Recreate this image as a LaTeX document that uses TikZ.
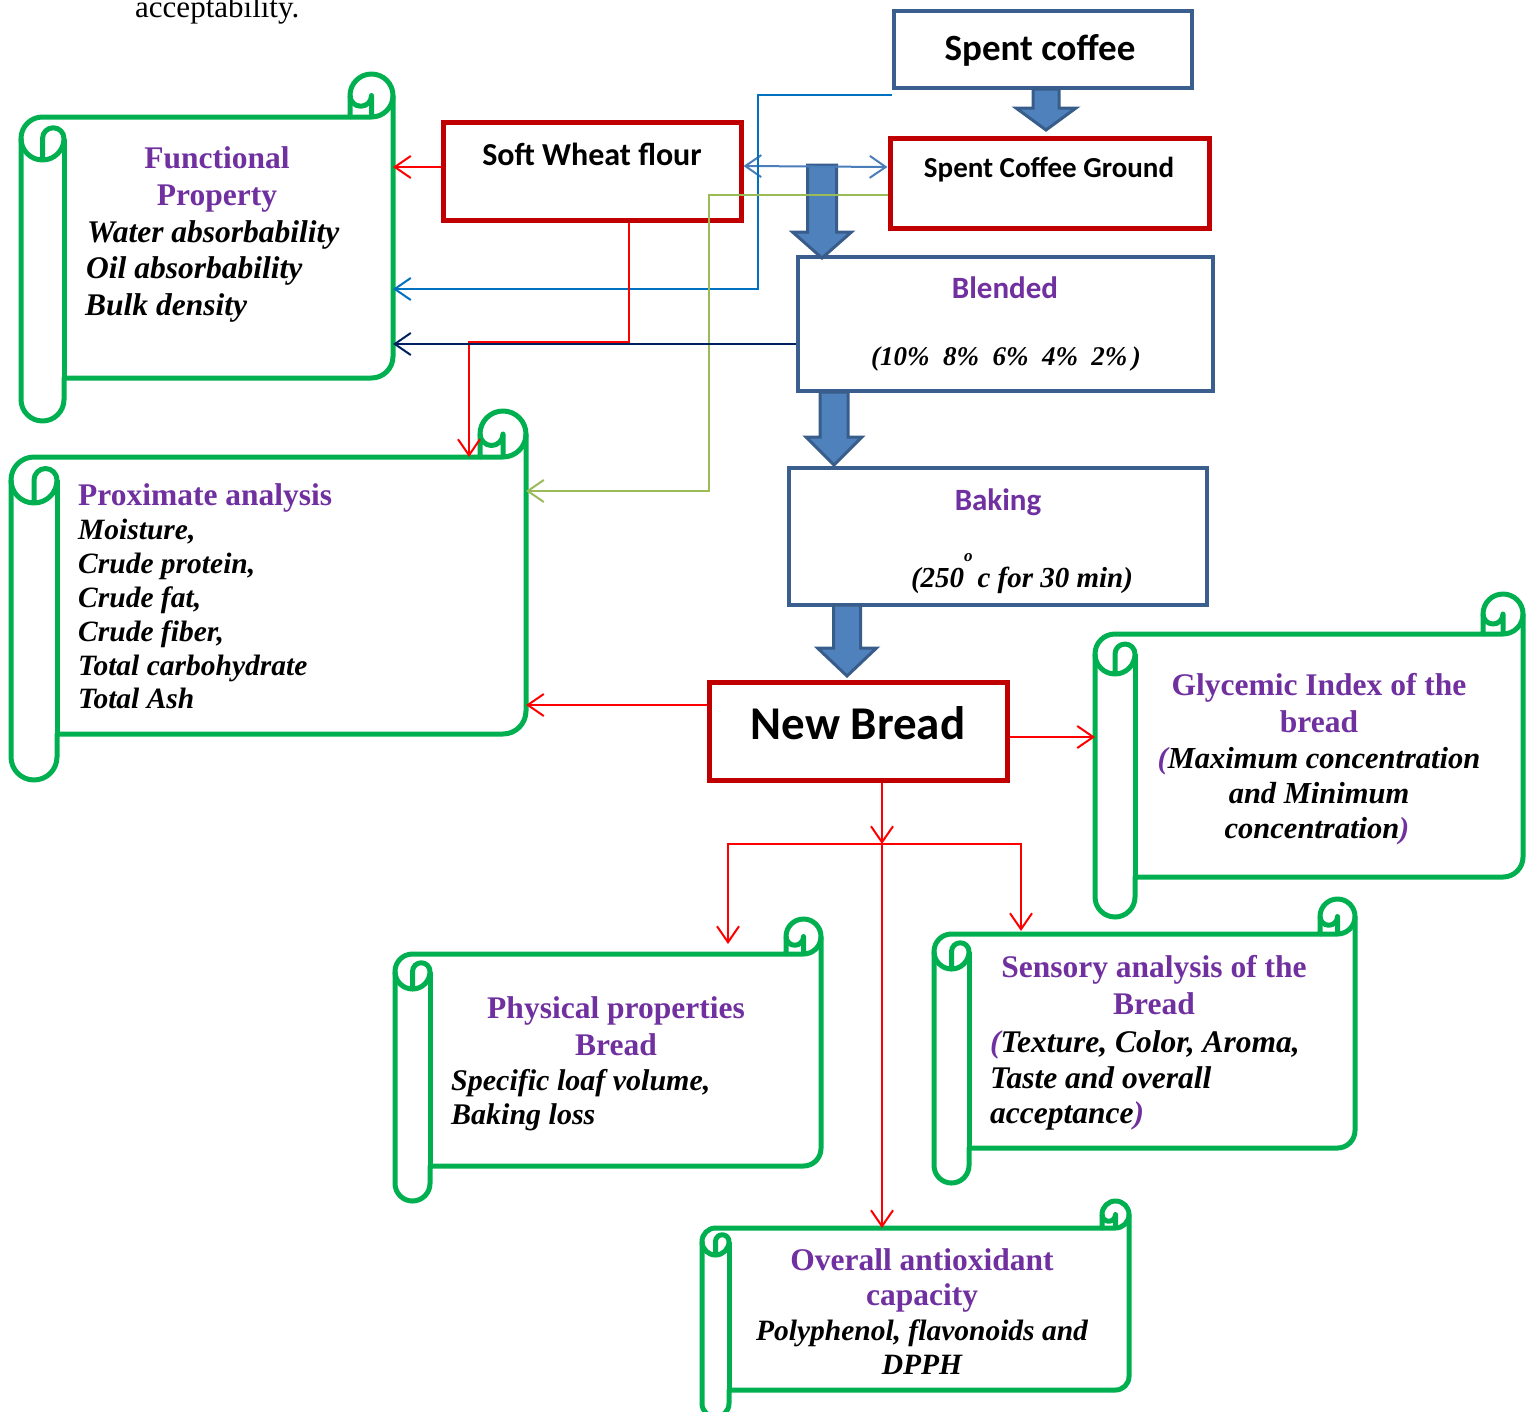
\documentclass[tikz,border=0pt]{standalone}
\usepackage{fontspec}
\setmainfont{Liberation Serif}
\newfontfamily\calfont{Carlito}
\usetikzlibrary{arrows.meta}
\definecolor{scrollgreen}{HTML}{00B050}
\definecolor{boxred}{HTML}{C00000}
\definecolor{boxblue}{HTML}{3A5F8F}
\definecolor{arrowfill}{HTML}{4F81BD}
\definecolor{arrowedge}{HTML}{385D8A}
\definecolor{linered}{HTML}{FF0000}
\definecolor{lineblue}{HTML}{0070C0}
\definecolor{linesteel}{HTML}{4A7EBB}
\definecolor{lineolive}{HTML}{9BBB59}
\definecolor{linenavy}{HTML}{002060}
\definecolor{ppurple}{HTML}{7030A0}

\newcommand\drawscroll[6]{%
  \pgfmathsetmacro\ScL{#2}\pgfmathsetmacro\ScT{#3}\pgfmathsetmacro\ScR{#4}\pgfmathsetmacro\ScB{#5}%
  \pgfmathsetmacro\ScC{#6}\pgfmathsetmacro\ScH{#6/2}\pgfmathsetmacro\ScQ{#6/4}%
  \pgfmathsetmacro\ScW{#4-#2}\pgfmathsetmacro\ScHt{#5-#3-2*#6}%
  \pgfmathsetmacro\ScX{(#2+#4)/2}\pgfmathsetmacro\ScY{(#3+#5)/2}%
  \path[scrollline,fill=white] (\ScL,\ScT+1.5*\ScC) arc[start angle=180,end angle=90,radius=\ScH pt]
     -- (\ScR-\ScC,\ScT+\ScC) -- (\ScR-\ScC,\ScT+\ScH) arc[start angle=180,end angle=0,radius=\ScH pt]
     -- (\ScR,\ScB-\ScC-\ScH) arc[start angle=0,end angle=-90,radius=\ScH pt]
     -- (\ScL+\ScC,\ScB-\ScC) -- (\ScL+\ScC,\ScB-\ScH) arc[start angle=0,end angle=-180,radius=\ScH pt] -- cycle;
  \draw[scrollline] (\ScR-\ScC,\ScT+\ScC) -- (\ScR-\ScH,\ScT+\ScC) arc[start angle=-90,end angle=0,radius=\ScH pt];
  \draw[scrollline] (\ScR-\ScH,\ScT+\ScC) -- (\ScR-\ScH,\ScT+\ScH) arc[start angle=0,end angle=-180,radius=\ScQ pt];
  \draw[scrollline] (\ScL+\ScH,\ScT+2*\ScC) -- (\ScL+\ScH,\ScT+1.5*\ScC) arc[start angle=180,end angle=0,radius=\ScQ pt]
     arc[start angle=0,end angle=-180,radius=\ScH pt];
  \draw[scrollline] (\ScL+\ScC,\ScT+1.5*\ScC) -- (\ScL+\ScC,\ScB-\ScC);
  \node[inner sep=0,outer sep=0,minimum width=\ScW pt,minimum height=\ScHt pt] (#1) at (\ScX,\ScY) {};
}
\newcommand\blockarrow[6]{% x, ytop, ytip, shaft half, head half, head start
  \draw[blockarr] (#1-#4,#2) -- (#1+#4,#2) -- (#1+#4,#6) -- (#1+#5,#6) -- (#1,#3)
     -- (#1-#5,#6) -- (#1-#4,#6) -- cycle;
}

\begin{document}
\begin{tikzpicture}[x=1pt,y=-1pt,
  scrollline/.style={draw=scrollgreen,line width=5pt,line join=round},
  redbox/.style={draw=boxred,line width=5pt,fill=white,inner sep=0},
  bluebox/.style={draw=boxblue,line width=4pt,fill=white,inner sep=0},
  blockarr/.style={fill=arrowfill,draw=arrowedge,line width=3pt,line join=miter},
  conn/.style={line width=2pt,-{Straight Barb[length=16pt,width=22pt]}},
  calt/.style={font=\calfont\bfseries\fontsize{#1}{#1}\selectfont,inner sep=0,anchor=base},
  ttl/.style={font=\bfseries\fontsize{31.5}{36}\selectfont,text=ppurple,inner sep=0},
  itm/.style={font=\bfseries\itshape\fontsize{#1}{36}\selectfont,inner sep=0},
  itm/.default=31.5,
]
\useasboundingbox (0,0) rectangle (1528,1411);

% top fragment of preceding text
\node[font=\fontsize{31}{36}\selectfont,inner sep=0,anchor=base west] (acc) at (135,17) {acceptability.};

% scrolls
\drawscroll{fp}{21}{74}{393}{421}{43}
\drawscroll{pa}{11}{411}{526}{780}{46}
\drawscroll{gi}{1095}{594}{1523}{917}{40}
\drawscroll{pp}{395}{919}{821}{1201}{35}
\drawscroll{sa}{934}{899}{1355}{1183}{35}
\drawscroll{oa}{702}{1201}{1129}{1417}{27}

% boxes
\node[bluebox,minimum width=298pt,minimum height=77pt] (sc) at (1043,49.5) {};
\node[redbox,minimum width=298pt,minimum height=98pt] (swf) at (592,171) {};
\node[redbox,minimum width=319pt,minimum height=90pt] (scg) at (1049.5,183) {};
\node[bluebox,minimum width=415pt,minimum height=134pt] (bl) at (1005.5,324) {};
\node[bluebox,minimum width=418pt,minimum height=137pt] (bk) at (998,536.5) {};
\node[redbox,minimum width=298pt,minimum height=98pt] (nb) at (858,731) {};

% block arrows
\blockarrow{1046}{89}{130}{13}{30}{108}
\blockarrow{822}{165}{258}{14.5}{29.5}{232}
\blockarrow{834}{392}{465}{14}{28}{437}
\blockarrow{847}{605}{676}{13.5}{29.5}{648}

% connectors
\draw[conn,linered] (swf.west |- 0,167) -- (fp.east |- 0,167);
\draw[conn,linesteel,{Straight Barb[length=16pt,width=22pt]}-{Straight Barb[length=16pt,width=22pt]}] (swf.east |- 0,166) -- (scg.west |- 0,167);
\draw[conn,lineblue] ([yshift=-5pt]sc.south west) -| (758,289) -- (fp.east |- 0,289);
\draw[conn,lineolive] (scg.west |- 0,195) -| (709,491) -- (pa.east |- 0,491);
\draw[conn,linered] (swf.south -| 629,0) |- (469,342) -- (pa.north -| 469,0);
\draw[conn,linenavy] (bl.west |- 0,344) -- (fp.east |- 0,344);
\draw[conn,linered] (nb.west |- 0,705) -- (pa.east |- 0,705);
\draw[conn,linered] (nb.east |- 0,737) -- (gi.west |- 0,737);
\coordinate (split) at (882,844);
\coordinate (ppin) at (728,944);
\coordinate (sain) at (1021,931);
\draw[conn,linered] (nb.south -| split) -- (split);
\draw[conn,linered,{Straight Barb[length=16pt,width=22pt]}-{Straight Barb[length=16pt,width=22pt]}] (ppin) |- (split) -| (sain);
\draw[conn,linered] (split) -- (oa.north -| split);

% box texts
\node[calt=37] (tsc) at (1040,60) {Spent coffee};
\node[calt=32] (tswf) at (592,165) {Soft Wheat flour};
\node[calt=29] (tscg) at (1049,177) {Spent Coffee Ground};
\node[calt=31,text=ppurple] (tbl) at (1005,298) {Blended};
\node[font=\bfseries\itshape\fontsize{27}{32}\selectfont,inner sep=0,anchor=base] (tblp) at (1006,365) {(10\%\ \ 8\%\ \ 6\%\ \ 4\%\ \ 2\%\,)};
\node[calt=31,text=ppurple] (tbk) at (998,510) {Baking};
\node[font=\bfseries\itshape\fontsize{29}{32}\selectfont,inner sep=0,anchor=base] (tbkp) at (1022,587) {(250\raisebox{26pt}{\fontsize{17}{17}\selectfont o}\,c for 30 min)};
\node[calt=47] (tnb) at (858,739) {New Bread};

% functional property
\node[ttl,anchor=base] (f1) at (217,168) {Functional};
\node[ttl,anchor=base] (f2) at (217,205) {Property};
\node[itm=31.5,anchor=base west] (f3) at (87,242) {Water absorbability};
\node[itm=31.5,anchor=base west] (f4) at (86,278) {Oil absorbability};
\node[itm=31.5,anchor=base west] (f5) at (85,315) {Bulk density};

% proximate
\node[ttl,anchor=base west] (p1) at (78,505) {Proximate analysis};
\node[itm=29.5,anchor=base west] (p2) at (78,539) {Moisture,};
\node[itm=29.5,anchor=base west] (p3) at (78,573) {Crude protein,};
\node[itm=29.5,anchor=base west] (p4) at (78,607) {Crude fat,};
\node[itm=29.5,anchor=base west] (p5) at (78,641) {Crude fiber,};
\node[itm=29.5,anchor=base west] (p6) at (78,675) {Total carbohydrate};
\node[itm=29.5,anchor=base west] (p7) at (78,708) {Total Ash};

% glycemic
\node[ttl,anchor=base] (g1) at (1319,695) {Glycemic Index of the};
\node[ttl,anchor=base] (g2) at (1319,732) {bread};
\node[itm=30.5,anchor=base] (g3) at (1319,768) {{\color{ppurple}(}Maximum concentration};
\node[itm=30.5,anchor=base] (g4) at (1319,803) {and Minimum};
\node[itm=30.5,anchor=base] (g5) at (1317,838) {concentration{\color{ppurple})}};

% physical
\node[ttl,anchor=base] (h1) at (616,1018) {Physical properties};
\node[ttl,anchor=base] (h2) at (616,1055) {Bread};
\node[itm=30,anchor=base west] (h3) at (451,1090) {Specific loaf volume,};
\node[itm=30,anchor=base west] (h4) at (451,1124) {Baking loss};

% sensory
\node[ttl,anchor=base] (s1) at (1154,977) {Sensory analysis of the};
\node[ttl,anchor=base] (s2) at (1154,1014) {Bread};
\node[itm=31.5,anchor=base west] (s3) at (990,1052) {{\color{ppurple}(}Texture, Color, Aroma,};
\node[itm=31.5,anchor=base west] (s4) at (990,1088) {Taste and overall};
\node[itm=31.5,anchor=base west] (s5) at (990,1123) {acceptance{\color{ppurple})}};

% overall antioxidant
\node[ttl,anchor=base] (o1) at (922,1270) {Overall antioxidant};
\node[ttl,anchor=base] (o2) at (922,1305) {capacity};
\node[itm=29.5,anchor=base] (o3) at (922,1340) {Polyphenol, flavonoids and};
\node[itm=29.5,anchor=base] (o4) at (922,1374) {DPPH};
\end{tikzpicture}
\end{document}
